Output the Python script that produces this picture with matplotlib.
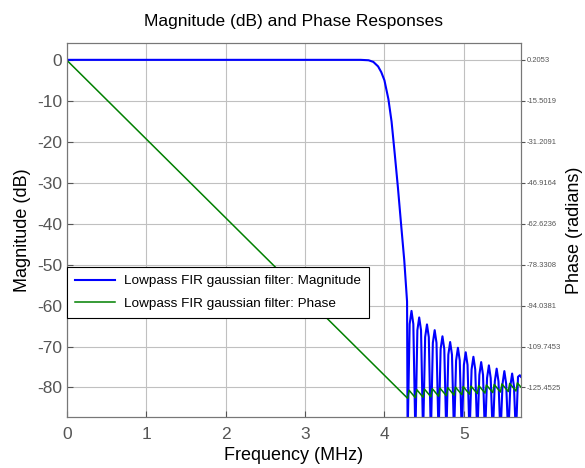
import matplotlib
matplotlib.use("Agg")
import matplotlib.pyplot as plt

plt.rcParams['font.family'] = ['Liberation Sans', 'DejaVu Sans']
plt.rcParams['axes.unicode_minus'] = False

# magnitude: passband + transition (MHz, dB)
trans_f = [0.0, 3.70, 3.80, 3.86, 3.92, 3.96, 4.00, 4.05, 4.09, 4.13, 4.17, 4.21, 4.25, 4.285]
trans_db = [0.0, 0.0, -0.1, -0.5, -1.6, -3.0, -5.0, -9.6, -15.1, -23.0, -31.2, -40.2, -49.0, -59.0]

# stopband nulls and sidelobes (peak plus shoulders either side)
null_f = [4.292, 4.390, 4.487, 4.585, 4.682, 4.780, 4.877, 4.975, 5.072, 5.170, 5.267, 5.365, 5.462, 5.560, 5.657]
null_db = -92.0
peak_f = [4.341, 4.438, 4.536, 4.633, 4.731, 4.828, 4.926, 5.024, 5.121, 5.219, 5.316, 5.414, 5.511, 5.609, 5.706]
peak_db = [-61.3, -62.9, -64.6, -66.0, -67.5, -68.9, -70.3, -71.4, -72.5, -73.8, -74.6, -75.4, -76.0, -76.6, -77.0]
shl_f = [4.318, 4.415, 4.513, 4.610, 4.708, 4.805, 4.903, 5.001, 5.098, 5.196, 5.293, 5.391, 5.488, 5.586, 5.683]
shr_f = [4.364, 4.461, 4.559, 4.656, 4.754, 4.851, 4.949, 5.047, 5.144, 5.242, 5.339, 5.437, 5.534, 5.632, 5.72]
sh_db = [-64.5, -66.0, -67.7, -69.1, -70.6, -72.0, -73.4, -74.5, -75.6, -76.9, -77.7, -78.5, -79.1, -79.7, -77.4]

# phase (radians): linear part then sawtooth at the nulls
lin_f = [0.0]
lin_ph = [0.0]
tooth_bot = [-129.6, -129.4, -129.2, -129.0, -128.8, -128.6, -128.4, -128.2, -128.0, -127.8, -127.6, -127.4, -127.2, -127.0, -126.8]
tooth_top_f = [4.310, 4.408, 4.505, 4.603, 4.700, 4.798, 4.895, 4.993, 5.090, 5.188, 5.285, 5.383, 5.480, 5.578, 5.675]
tooth_top = [-126.5, -126.3, -126.1, -125.9, -125.7, -125.5, -125.3, -125.1, -124.9, -124.7, -124.5, -124.3, -124.1, -123.9, -123.7]
end_f, phase_end = 5.72, -125.3

phase_ticks = [0.2053, -15.5019, -31.2091, -46.9164, -62.6236, -78.3308, -94.0381, -109.7453, -125.4525]
mag_ticks = [0, -10, -20, -30, -40, -50, -60, -70, -80]

mf = list(trans_f)
md = list(trans_db)
for i in range(len(null_f)):
    mf += [null_f[i], shl_f[i], peak_f[i], shr_f[i]]
    md += [null_db, sh_db[i], peak_db[i], sh_db[i]]

pf = list(lin_f)
pp = list(lin_ph)
for i in range(len(null_f)):
    pf += [null_f[i], tooth_top_f[i]]
    pp += [tooth_bot[i], tooth_top[i]]
pf.append(end_f)
pp.append(phase_end)

ylo, yhi = -87.2, 4.1
xlo, xhi = 0, 5.72

fig = plt.figure(figsize=(5.85, 4.68), dpi=100)
ax = fig.add_axes([0.1145, 0.109, 0.776, 0.799])
ax2 = ax.twinx()

l1, = ax.plot(mf, md, color=(0, 0, 1), lw=1.5, label="Lowpass FIR gaussian filter: Magnitude")
l2, = ax2.plot(pf, pp, color=(0, 0.5, 0), lw=1.1, label="Lowpass FIR gaussian filter: Phase")

ax.set_xlim(xlo, xhi)
ax.set_ylim(ylo, yhi)
ax2.set_ylim(0.2053 + 1.57072 * ylo, 0.2053 + 1.57072 * yhi)

ax.set_yticks(mag_ticks)
ax.set_xticks([0, 1, 2, 3, 4, 5])
ax2.set_yticks(phase_ticks)
ax2.set_yticklabels(["%.4f" % v for v in phase_ticks])

ax.grid(True, color="#c0c0c0", lw=0.8)
ax.set_axisbelow(True)
ax.tick_params(axis="both", direction="in", labelsize=12.5, labelcolor="#555555", color="#555555", length=4)
ax.tick_params(axis="x", pad=7)
ax2.tick_params(axis="y", direction="out", labelsize=5.5, labelcolor="#555555", color="#555555", length=3, pad=1)

for a in (ax, ax2):
    for s in a.spines.values():
        s.set_color("#777777")

ax.set_xlabel("Frequency (MHz)", fontsize=13, labelpad=4)
ax.set_ylabel("Magnitude (dB)", fontsize=13, labelpad=4)
ax2.set_ylabel("Phase (radians)", fontsize=13, labelpad=4)
ax.set_title("Magnitude (dB) and Phase Responses", fontsize=12.5, pad=12)

leg = ax2.legend(handles=[l1, l2], loc="lower left", bbox_to_anchor=(0.0, 0.265), fontsize=9.7,
                 fancybox=False, framealpha=1, edgecolor="black", borderaxespad=0,
                 handlelength=3, borderpad=0.6, labelspacing=0.75, handletextpad=0.6)
leg.get_frame().set_linewidth(0.8)

fig.savefig("out.png", dpi=100)
